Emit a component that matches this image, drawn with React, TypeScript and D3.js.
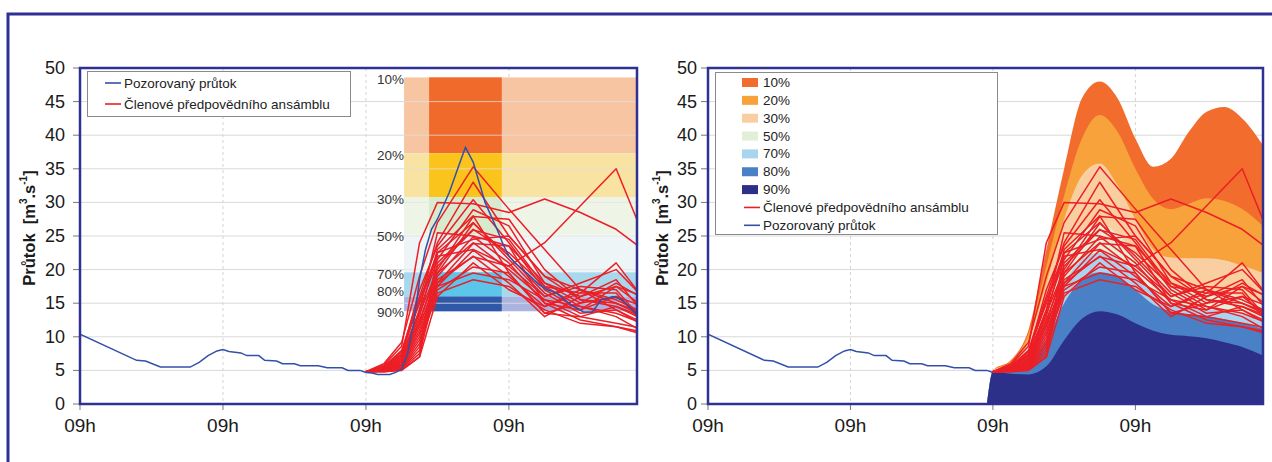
import React from 'react';
import * as d3 from 'd3';

const FONT = "'Liberation Sans', Arial, Helvetica, sans-serif";
const FRAME = '#2e3192';
const RED = '#ec1f26';
const BLUE = '#3250a8';
const GRID = '#d9d9d9';

// ---------- axes ----------
const xTickHours = [0, 24, 48, 72];
const xTickLabels = ['09h', '09h', '09h', '09h'];
const yTickValues = [0, 5, 10, 15, 20, 25, 30, 35, 40, 45, 50];
const hourDomain = [0, 93.5];
const flowDomain = [0, 50];
const forecastStart = 48;

// ---------- observed discharge ----------
const obsHours = [0, 9.5, 11, 13.5, 18.5, 20, 21.5, 23, 24, 25, 27, 28, 30, 31, 33, 34, 36, 37, 40, 41.5, 44, 45, 47, 48, 49, 50, 52, 53, 54, 55, 56, 57, 58, 59, 60, 61, 62, 63, 64, 64.7, 66, 67, 68, 69, 70, 71, 72, 73, 75, 77, 78.5, 80, 82.5, 84.5, 86, 87.5, 89.5, 91, 93.5];
const obsValues = [10.4, 6.5, 6.4, 5.5, 5.5, 6.2, 7.2, 7.9, 8.1, 7.8, 7.6, 7.2, 7.2, 6.5, 6.4, 6.0, 6.0, 5.7, 5.7, 5.4, 5.4, 5.0, 5.0, 4.7, 4.6, 4.4, 4.4, 4.7, 5.2, 7.5, 12, 18.5, 23, 26, 27.5, 29.5, 31.5, 34, 36.5, 38.2, 36, 33, 30, 28, 26, 23.8, 22, 21, 19.5, 17.8, 17, 16.5, 14.7, 13.7, 13.7, 15.5, 16, 15.5, 13.3];

// ---------- ensemble members ----------
const ensHours = [48, 51, 54, 57, 60, 66, 72, 78, 84, 90, 96];
const m01 = [4.8, 6.0, 9.2, 19.0, 27.0, 35.3, 29.0, 23.0, 17.0, 15.5, 13.0];
const m02 = [4.8, 5.8, 8.6, 24.0, 30.0, 29.8, 28.5, 30.5, 28.5, 26.0, 22.0];
const m03 = [4.8, 5.6, 8.0, 16.0, 24.0, 33.0, 25.0, 19.0, 15.5, 14.5, 12.0];
const m04 = [4.8, 5.5, 7.8, 15.0, 22.0, 23.0, 20.5, 24.0, 29.5, 35.0, 22.0];
const m05 = [4.8, 5.4, 7.5, 17.0, 23.5, 30.4, 24.0, 17.0, 14.0, 16.0, 14.0];
const m06 = [4.8, 5.3, 7.0, 14.0, 21.5, 28.9, 26.5, 18.0, 15.0, 18.0, 15.0];
const m07 = [4.8, 5.2, 6.8, 13.5, 20.0, 27.9, 27.5, 20.0, 15.5, 15.0, 12.5];
const m08 = [4.8, 5.2, 6.5, 12.5, 19.5, 26.9, 22.0, 16.5, 13.5, 14.0, 11.0];
const m09 = [4.8, 5.1, 6.3, 12.0, 20.5, 25.9, 24.5, 17.5, 16.5, 21.0, 14.0];
const m10 = [4.8, 5.1, 6.2, 11.5, 19.0, 24.9, 21.0, 15.0, 14.0, 17.5, 13.5];
const m11 = [4.8, 5.0, 6.0, 11.0, 18.0, 23.9, 23.5, 18.0, 16.0, 18.5, 12.0];
const m12 = [4.8, 5.0, 5.9, 10.5, 17.5, 22.9, 19.0, 14.5, 16.5, 16.5, 10.5];
const m13 = [4.8, 5.0, 5.8, 10.0, 18.5, 21.9, 20.5, 16.0, 17.5, 17.0, 11.0];
const m14 = [4.8, 4.9, 5.7, 9.5, 17.0, 20.4, 19.5, 13.5, 15.0, 16.0, 12.0];
const m15 = [4.8, 4.9, 5.5, 9.0, 16.5, 18.5, 17.5, 14.0, 12.0, 11.5, 10.5];
const m16 = [4.8, 4.9, 5.4, 8.5, 21.0, 26.0, 22.5, 17.5, 14.5, 13.0, 10.0];
const m17 = [4.8, 5.0, 5.3, 8.0, 19.5, 24.0, 20.0, 15.5, 13.0, 14.5, 12.5];
const m18 = [4.8, 4.9, 5.2, 7.5, 18.0, 22.0, 18.0, 13.0, 16.0, 17.5, 15.5];
const m19 = [4.8, 4.8, 5.1, 7.0, 16.0, 21.0, 17.0, 14.5, 17.0, 15.0, 13.0];
const m20 = [4.8, 4.8, 5.0, 7.0, 22.5, 24.5, 25.0, 19.0, 17.0, 14.0, 11.5];
const m21 = [4.8, 5.5, 7.2, 14.0, 25.5, 25.0, 23.5, 15.0, 12.5, 11.5, 10.0];
const m22 = [4.8, 5.3, 6.7, 13.0, 23.0, 28.0, 19.5, 13.5, 13.0, 12.0, 11.0];
const m23 = [4.8, 5.4, 7.4, 15.5, 22.5, 27.0, 21.5, 16.0, 18.0, 20.0, 14.5];
const m24 = [4.8, 5.1, 6.4, 12.0, 17.5, 19.5, 18.5, 15.5, 14.5, 13.5, 11.5];
const members = [m01, m02, m03, m04, m05, m06, m07, m08, m09, m10, m11, m12, m13, m14, m15, m16, m17, m18, m19, m20, m21, m22, m23, m24];

// ---------- exceedance percentiles (right chart) ----------
const pctHours = [47, 48, 51, 54, 57, 60, 63, 66, 69, 72, 75, 78, 81, 84, 87, 90, 93.5];
const p10 = [0, 5, 6.5, 11, 23, 35, 45.5, 48, 45.5, 39.5, 35.3, 36.5, 40.5, 43.5, 44.2, 42.5, 38.5];
const p20 = [0, 5, 6.3, 10.5, 20.5, 31, 39.5, 43, 40.5, 35, 30.5, 29, 29.8, 30.6, 30.2, 29, 26.5];
const p30 = [0, 5, 6, 9.8, 18, 27.5, 34, 35.8, 32.5, 27.5, 23, 21.8, 21.7, 21.7, 21.4, 20.6, 19.5];
const p50 = [0, 4.9, 5.6, 8.6, 14.5, 21.5, 25.8, 26.8, 25.3, 22.5, 19.5, 17.6, 16.9, 16.6, 16.4, 16, 15];
const p70 = [0, 4.8, 5.2, 7.2, 11.8, 18, 21.5, 22.5, 21.5, 19.5, 16.5, 15, 14.4, 14.1, 13.8, 13.3, 12.3];
const p80 = [0, 4.8, 4.9, 6, 9.5, 15, 18.5, 19.6, 19, 17, 14.8, 13.8, 13.4, 13.1, 12.6, 12, 11.2];
const p90 = [0, 4.8, 4.5, 4.4, 5.6, 9.5, 12.7, 13.8, 13.3, 12, 10.9, 10.3, 10.1, 9.8, 9.2, 8.5, 7.2];
const pctSeries = [p10, p20, p30, p50, p70, p80, p90];
const pctLabels = ['10%', '20%', '30%', '50%', '70%', '80%', '90%'];
const pctColors = ['#f26d2d', '#f7a23b', '#f9cfa1', '#e1eed8', '#a9d4ef', '#4a80c5', '#2d3089'];

// ---------- percentile boxes (left chart) ----------
const boxLabels = ['10%', '20%', '30%', '50%', '70%', '80%', '90%'];
const boxTops = [48.6, 37.3, 30.8, 25.2, 19.6, 16.0, 15.0];
const boxBottom = 13.8;
const boxStartHour = 54.4;
const boxColStartHour = 58.6;
const boxColEndHour = 70.8;
const boxPale = ['#f7c5a1', '#f9e3a2', '#eef4e6', '#edf5f7', '#a8d8ec', '#aab4df', '#aab4df'];
const boxStrong = ['#f06b2b', '#fac41c', '#d8eace', '#dfeff4', '#5bc5ea', '#2f58a9', '#2f58a9'];

const leftLegend = ['Pozorovaný průtok', 'Členové předpovědního ansámblu'];
const rightLegendExtra = ['Členové předpovědního ansámblu', 'Pozorovaný průtok'];

const TOP = 68;
const BOTTOM = 404;

function YTitle({ x }: { x: number }) {
  return (
    <text
      transform={`translate(${x},${228}) rotate(-90)`}
      textAnchor="middle"
      dominantBaseline="central"
      fontFamily={FONT}
      fontWeight="bold"
      fontSize={16.5}
      fill="#1a1a1a"
      style={{ whiteSpace: 'pre' }}
    >
      {'Průtok  [m'}
      <tspan dy={-6} fontSize={10}>3</tspan>
      <tspan dy={6}>.s</tspan>
      <tspan dy={-6} fontSize={10}>-1</tspan>
      <tspan dy={6}>]</tspan>
    </text>
  );
}

function Chart({ x0, x1, right, labelGap, titleX, clipId }: any) {
  const x = d3.scaleLinear().domain(hourDomain).range([x0, x1]);
  const y = d3.scaleLinear().domain(flowDomain).range([BOTTOM, TOP]);
  const line = d3.line<[number, number]>().x((d) => x(d[0])).y((d) => y(d[1]));

  const obsPts: [number, number][] = obsHours
    .map((h, i) => [h, obsValues[i]] as [number, number])
    .filter((d) => !right || d[0] <= forecastStart);

  const hGrid = yTickValues.filter((v) => v > 0 && v < 50).map((v) => (
    <line key={'hg' + v} x1={x0} x2={x1} y1={y(v)} y2={y(v)} stroke={GRID} strokeWidth={1} />
  ));
  const vGrid = xTickHours.filter((h) => h > 0).map((h) => (
    <line key={'vg' + h} x1={x(h)} x2={x(h)} y1={TOP} y2={BOTTOM} stroke="#d4d4d4" strokeDasharray="3,3" strokeWidth={1} />
  ));

  let boxes: any = null;
  let boxText: any = null;
  if (!right) {
    const xs = x(boxStartHour);
    const xc0 = x(boxColStartHour);
    const xc1 = x(boxColEndHour);
    boxes = boxTops.map((t, i) => {
      const b = i < boxTops.length - 1 ? boxTops[i + 1] : boxBottom;
      return (
        <g key={'box' + i}>
          <rect x={xs} y={y(t)} width={x1 - xs} height={y(b) - y(t)} fill={boxPale[i]} />
          <rect x={xc0} y={y(t)} width={xc1 - xc0} height={y(b) - y(t)} fill={boxStrong[i]} />
        </g>
      );
    });
    const ly = boxTops.map((t) => y(t));
    for (let i = 1; i < ly.length; i++) {
      const gap = ly[i] - ly[i - 1];
      if (gap < 17) {
        const s = (21 - gap) / 2;
        ly[i - 1] -= s;
        ly[i] += s;
      }
    }
    boxText = boxLabels.map((l, i) => (
      <text key={'bl' + i} x={xs} y={ly[i] + 2} textAnchor="end" dominantBaseline="central"
        fontFamily={FONT} fontSize={13.5} fill="#333">{l}</text>
    ));
  }

  let areas: any = null;
  if (right) {
    const area = d3.area<[number, number]>()
      .x((d) => x(d[0]))
      .y0(y(0))
      .y1((d) => y(d[1]))
      .curve(d3.curveMonotoneX);
    areas = pctSeries.map((s, i) => (
      <path key={'ar' + i} d={area(pctHours.map((h, j) => [h, s[j]] as [number, number])) || ''} fill={pctColors[i]} />
    ));
  }

  const reds = members.map((m, i) => (
    <path key={'m' + i} d={line(ensHours.map((h, j) => [h, m[j]] as [number, number])) || ''}
      fill="none" stroke={RED} strokeWidth={1.5} strokeLinejoin="round" />
  ));

  return (
    <g>
      <defs>
        <clipPath id={clipId}>
          <rect x={x0} y={TOP} width={x1 - x0} height={BOTTOM - TOP} />
        </clipPath>
      </defs>
      <rect x={x0} y={TOP} width={x1 - x0} height={BOTTOM - TOP} fill="#fff" />
      <g clipPath={`url(#${clipId})`}>
        {hGrid}
        {vGrid}
        {areas}
        {boxes}
        {!right && yTickValues.filter((v) => v > 0 && v < 50).map((v) => (
          <line key={'hg2' + v} x1={x(boxStartHour)} x2={x1} y1={y(v)} y2={y(v)} stroke="#e2e2e2" strokeOpacity={0.75} strokeWidth={1} />
        ))}
        {right && <path d={line(obsPts) || ''} fill="none" stroke={BLUE} strokeWidth={1.5} />}
        {reds}
        {!right && <path d={line(obsPts) || ''} fill="none" stroke={BLUE} strokeWidth={1.5} />}
      </g>
      {boxText}
      {yTickValues.map((v) => (
        <g key={'yt' + v}>
          <line x1={x0 - 7} x2={x0} y1={y(v)} y2={y(v)} stroke="#777" strokeWidth={1} />
          <text x={x0 - labelGap} y={y(v)} textAnchor="end" dominantBaseline="central"
            fontFamily={FONT} fontSize={18} fill="#1a1a1a">{v}</text>
        </g>
      ))}
      {xTickHours.map((h, i) => (
        <g key={'xt' + h}>
          <line x1={x(h)} x2={x(h)} y1={BOTTOM} y2={BOTTOM + 6} stroke="#777" strokeWidth={1} />
          <text x={x(h)} y={432} textAnchor="middle" fontFamily={FONT} fontSize={19} fill="#1a1a1a">{xTickLabels[i]}</text>
        </g>
      ))}
      <rect x={x0} y={TOP} width={x1 - x0} height={BOTTOM - TOP} fill="none" stroke={FRAME} strokeWidth={2.5} />
      <YTitle x={titleX} />
      {!right && (
        <g fontFamily={FONT} fontSize={13.5} fill="#222">
          <rect x={87.5} y={71.5} width={263} height={45} fill="#fff" stroke="#8a8a8a" strokeWidth={1} />
          {leftLegend.map((l, i) => (
            <g key={'ll' + i}>
              <line x1={105} x2={121} y1={83 + i * 21} y2={83 + i * 21} stroke={i === 0 ? BLUE : RED} strokeWidth={1.6} />
              <text x={124} y={83 + i * 21} dominantBaseline="central">{l}</text>
            </g>
          ))}
        </g>
      )}
      {right && (
        <g fontFamily={FONT} fontSize={13.5} fill="#222">
          <rect x={715.5} y={72.5} width={282} height={162} fill="#fff" stroke="#8a8a8a" strokeWidth={1} />
          {pctLabels.map((l, i) => (
            <g key={'rl' + i}>
              <rect x={742} y={82.5 + i * 17.85 - 4.5} width={16} height={9} fill={pctColors[i]} />
              <text x={763} y={82.5 + i * 17.85} dominantBaseline="central">{l}</text>
            </g>
          ))}
          {rightLegendExtra.map((l, k) => {
            const yy = 82.5 + (pctLabels.length + k) * 17.85;
            return (
              <g key={'re' + k}>
                <line x1={744} x2={760} y1={yy} y2={yy} stroke={k === 0 ? RED : BLUE} strokeWidth={1.6} />
                <text x={763} y={yy} dominantBaseline="central">{l}</text>
              </g>
            );
          })}
        </g>
      )}
    </g>
  );
}

export default function App() {
  return (
    <svg width={1272} height={462} style={{ position: 'absolute', left: 0, top: 0, background: '#fff' }}>
      <rect x={0} y={0} width={1272} height={462} fill="#fff" />
      <path d="M8,470 V14 H1280" fill="none" stroke={FRAME} strokeWidth={3} />
      <Chart x0={80} x1={637} right={false} labelGap={15} titleX={29} clipId="clipL" />
      <Chart x0={708} x1={1263} right={true} labelGap={11} titleX={662} clipId="clipR" />
    </svg>
  );
}
